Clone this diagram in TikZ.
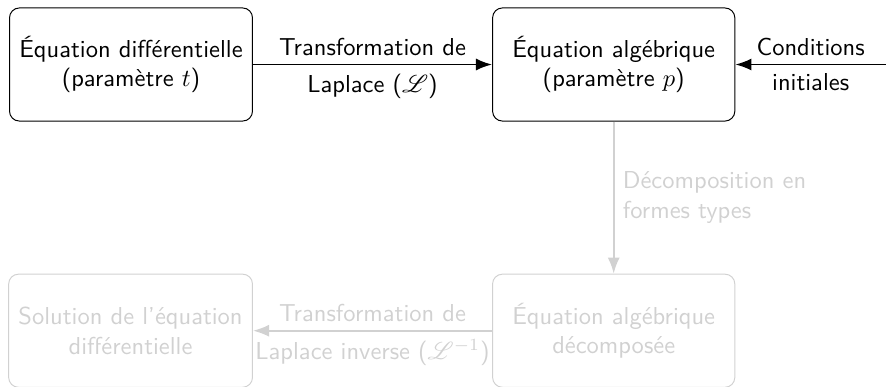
\documentclass[tikz,border=0pt]{standalone}
\usepackage{amsmath}
\usepackage{mathrsfs}
\usepackage{xcolor}
\usetikzlibrary{arrows.meta,positioning}
\colorlet{pale}{black!18}

\begin{document}
\begin{tikzpicture}[font=\sffamily,>=Latex,x=0.01435cm,y=-0.01435cm,
  box/.style={draw,rounded corners=4pt,align=center,minimum width=3.474cm,minimum height=1.622cm,inner sep=4pt}]
  \useasboundingbox (0,0) rectangle (886,386);
  \node[box] (edo) at (131,64.5) {Équation différentielle\\(paramètre $t$)};
  \node[box,right=3.43cm of edo] (alg) {Équation algébrique\\(paramètre $p$)};
  \node[box,draw=pale,text=pale,below=2.182cm of alg] (dec) {Équation algébrique\\décomposée};
  \node[box,draw=pale,text=pale,left=3.43cm of dec] (sol) {Solution de l'équation\\différentielle};
  \coordinate (ci) at (886,64.5);
  \draw[->,thick] (edo) -- node[above]{Transformation de} node[below]{Laplace ($\mathscr{L}$)} (alg);
  \draw[->,thick] (ci) -- node[above]{Conditions} node[below]{initiales} (alg);
  \draw[->,thick,pale] (alg) -- node[right,align=left]{Décomposition en\\formes types} (dec);
  \draw[->,thick,pale] (dec) -- node[above]{Transformation de} node[below]{Laplace inverse ($\mathscr{L}^{-1}$)} (sol);
\end{tikzpicture}
\end{document}
